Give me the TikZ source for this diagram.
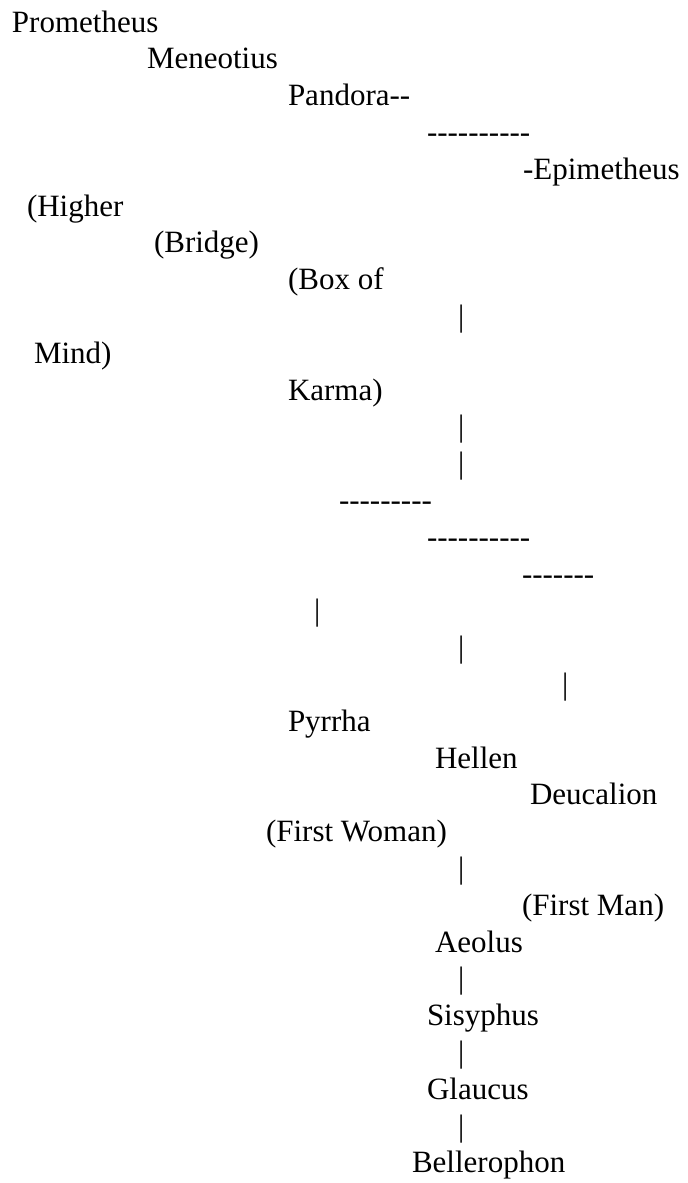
\documentclass[tikz,border=0pt]{standalone}
\usepackage{fontspec}
\setmainfont{Liberation Serif}[Ligatures=TeXOff]
\usepackage{tikz}

\begin{document}
\begin{tikzpicture}[x=0.75pt, y=-0.75pt]
  \tikzstyle{person} = [anchor=base west, inner sep=0pt, outer sep=0pt, font=\fontsize{23.25}{28}\selectfont]
  \tikzstyle{glyph} = [person]

  \useasboundingbox (0,0) rectangle (687,1183);

  \node[person] (prometheus) at (12,32) {Prometheus};
  \node[person] (meneotius) at (147,68.8) {Meneotius};
  \node[person] (pandora) at (288,105.6) {Pandora--};
  \node[glyph] (d1) at (427,142.4) {----------};
  \node[person] (epimetheus) at (523,179.2) {-Epimetheus};
  \node[person] (higher) at (27,216) {(Higher};
  \node[person] (bridge) at (154,252.8) {(Bridge)};
  \node[person] (boxof) at (288,289.6) {(Box of};
  \node[glyph] (b1) at (458,326.4) {|};
  \node[person] (mind) at (34,363.2) {Mind)};
  \node[person] (karma) at (288,400) {Karma)};
  \node[glyph] (b2) at (458,436.8) {|};
  \node[glyph] (b3) at (458,473.6) {|};
  \node[glyph] (d2) at (339,510.4) {---------};
  \node[glyph] (d3) at (427,547.2) {----------};
  \node[glyph] (d4) at (522,584) {-------};
  \node[glyph] (b4) at (314,620.8) {|};
  \node[glyph] (b5) at (458,657.6) {|};
  \node[glyph] (b6) at (562,694.4) {|};
  \node[person] (pyrrha) at (288,731.2) {Pyrrha};
  \node[person] (hellen) at (435,768) {Hellen};
  \node[person] (deucalion) at (530,804.8) {Deucalion};
  \node[person] (woman) at (266,841.6) {(First Woman)};
  \node[glyph] (b7) at (458,878.4) {|};
  \node[person] (man) at (522,915.2) {(First Man)};
  \node[person] (aeolus) at (435,952) {Aeolus};
  \node[glyph] (b8) at (458,988.8) {|};
  \node[person] (sisyphus) at (427,1025.6) {Sisyphus};
  \node[glyph] (b9) at (458,1062.4) {|};
  \node[person] (glaucus) at (427,1099.2) {Glaucus};
  \node[glyph] (b10) at (458,1136) {|};
  \node[person] (bellerophon) at (412,1172.8) {Bellerophon};
\end{tikzpicture}
\end{document}
